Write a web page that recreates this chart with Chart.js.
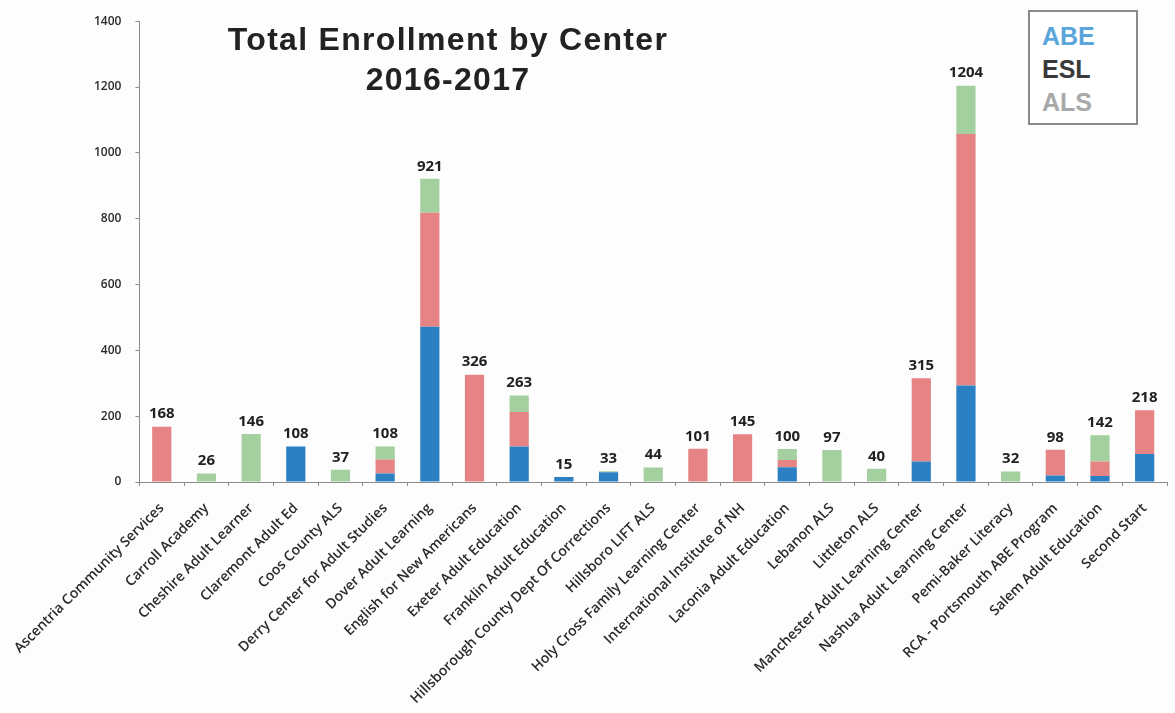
<!DOCTYPE html>
<html>
<head>
<meta charset="utf-8">
<script src="https://cdn.jsdelivr.net/npm/chart.js@4.4.1/dist/chart.umd.min.js"></script>
<style>
  html, body { margin: 0; padding: 0; background: #fdfdfd; }
  #wrap { position: relative; width: 1175px; height: 713px; }
  canvas { position: absolute; left: 0; top: 0; }
  #title { position: absolute; left: 148px; width: 600px; top: 19px; text-align: center;
    font-family: "Liberation Sans", Arial, sans-serif; font-weight: bold; font-size: 32px; letter-spacing: 1.3px; line-height: 40px; color: #222; }
  #legend { position: absolute; left: 1028px; top: 10px; width: 110px; height: 115px;
    border: 2px solid #8a8a8a; box-sizing: border-box; background: #fff;
    font-family: "Liberation Sans", Arial, sans-serif; font-weight: bold; font-size: 25px; line-height: 33px; padding: 8px 0 0 12px; }
</style>
</head>
<body>
<div id="wrap">
  <canvas id="c" width="1175" height="713"></canvas>
  <div id="title">Total Enrollment by Center<br>2016-2017</div>
  <div id="legend">
    <div style="color:#5aa6da">ABE</div>
    <div style="color:#3a3a3a">ESL</div>
    <div style="color:#a9a9a9">ALS</div>
  </div>
</div>
<script>
const categories = [
  "Ascentria Community Services", "Carroll Academy", "Cheshire Adult Learner",
  "Claremont Adult Ed", "Coos County ALS", "Derry Center for Adult Studies",
  "Dover Adult Learning", "English for New Americans", "Exeter Adult Education",
  "Franklin Adult Education", "Hillsborough County Dept Of Corrections",
  "Hillsboro LIFT ALS", "Holy Cross Family Learning Center",
  "International Institute of NH", "Laconia Adult Education", "Lebanon ALS",
  "Littleton ALS", "Manchester Adult Learning Center", "Nashua Adult Learning Center",
  "Pemi-Baker Literacy", "RCA - Portsmouth ABE Program", "Salem Adult Education",
  "Second Start"
];
const abeValues = [0, 0, 0, 108, 0, 26, 472, 0, 108, 15, 30, 0, 0, 0, 45, 0, 0, 62, 293, 0, 20, 18, 85];
const eslValues = [168, 0, 0, 0, 0, 42, 346, 326, 105, 0, 0, 0, 101, 145, 22, 0, 0, 253, 764, 0, 78, 44, 133];
const alsValues = [0, 26, 146, 0, 37, 40, 103, 0, 50, 0, 3, 44, 0, 0, 33, 97, 40, 0, 147, 32, 0, 80, 0];
const yTicks = [0, 200, 400, 600, 800, 1000, 1200, 1400];

const totalsPlugin = {
  id: 'totals',
  afterDatasetsDraw(chart) {
    const ctx = chart.ctx;
    ctx.save();
    ctx.font = 'bold 15px "Open Sans", sans-serif';
    ctx.fillStyle = '#222';
    ctx.textAlign = 'center';
    ctx.textBaseline = 'bottom';
    categories.forEach((c, i) => {
      let top = Infinity, x = 0;
      chart.data.datasets.forEach((ds, d) => {
        const el = chart.getDatasetMeta(d).data[i];
        if (el) { top = Math.min(top, el.y); x = el.x; }
      });
      const total = abeValues[i] + eslValues[i] + alsValues[i];
      ctx.fillText(String(total), x, top - 5);
    });
    ctx.restore();
  }
};

new Chart(document.getElementById('c'), {
  type: 'bar',
  data: {
    labels: categories,
    datasets: [
      { label: 'ABE', data: abeValues, backgroundColor: '#2a80c3' },
      { label: 'ESL', data: eslValues, backgroundColor: '#e58385' },
      { label: 'ALS', data: alsValues, backgroundColor: '#a4cf9f' }
    ]
  },
  options: {
    responsive: false,
    animation: false,
    devicePixelRatio: 1,
    layout: { padding: { top: 16, right: 8, left: 0, bottom: 0 } },
    datasets: { bar: { categoryPercentage: 1, barPercentage: 0.43 } },
    plugins: { legend: { display: false }, tooltip: { enabled: false } },
    scales: {
      x: {
        stacked: true,
        afterFit(s) { s.height = 231; },
        border: { display: true, color: '#8c8c8c', width: 1 },
        grid: { display: true, drawOnChartArea: false, drawTicks: true, tickLength: 4, color: '#8c8c8c', offset: true },
        ticks: {
          autoSkip: false, maxRotation: 45, minRotation: 45,
          color: '#2a2a2a', padding: 14,
          font: { family: '"Open Sans", sans-serif', size: 14, weight: '600' }
        }
      },
      y: {
        stacked: true,
        min: 0, max: 1400,
        afterFit(s) { s.width = 138; },
        afterBuildTicks(s) { s.ticks = yTicks.map(v => ({ value: v })); },
        border: { display: true, color: '#8c8c8c', width: 1 },
        grid: { display: true, drawOnChartArea: false, drawTicks: true, tickLength: 4, color: '#8c8c8c' },
        ticks: {
          color: '#2a2a2a', padding: 14,
          callback: v => String(v),
          font: { family: '"Open Sans", sans-serif', size: 12, weight: '600' }
        }
      }
    }
  },
  plugins: [totalsPlugin]
});
</script>
</body>
</html>
